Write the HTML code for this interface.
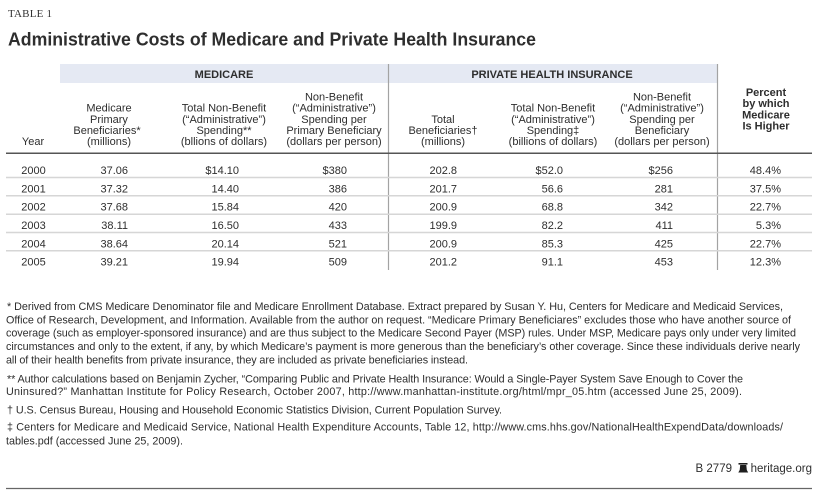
<!DOCTYPE html>
<html>
<head>
<meta charset="utf-8">
<style>
  html,body{margin:0;padding:0;background:#fff;}
  svg{display:block;}
  .s{font-family:"Liberation Sans",Arial,sans-serif;fill:#2e2e2e;}
  .h{font-size:11px;text-anchor:middle;}
  .d{font-size:11px;text-anchor:end;}
  .f{font-size:10.8px;}
</style>
</head>
<body>
<svg width="825" height="491" viewBox="0 0 825 491" xmlns="http://www.w3.org/2000/svg">
  <rect width="825" height="491" fill="#fff"/>
  <!-- Titles -->
  <text x="8" y="17" font-family="Liberation Serif, serif" font-size="11" fill="#333" textLength="44">TABLE 1</text>
  <text x="8" y="45.5" class="s" font-size="18.5" font-weight="bold" fill="#1e1e1e" textLength="528" lengthAdjust="spacingAndGlyphs">Administrative Costs of Medicare and Private Health Insurance</text>

  <!-- header band -->
  <rect x="60" y="64" width="657" height="19" fill="#e5e9f3"/>
  <line x1="388.5" y1="64" x2="388.5" y2="270" stroke="#a3a3a3" stroke-width="1.2"/>
  <line x1="717.5" y1="64" x2="717.5" y2="270" stroke="#a3a3a3" stroke-width="1.2"/>
  <text x="224" y="78" class="s h" font-weight="bold">MEDICARE</text>
  <text x="552" y="78" class="s h" font-weight="bold">PRIVATE HEALTH INSURANCE</text>

  <!-- column headers -->
  <text x="33" y="145" class="s h">Year</text>

  <text x="109" y="111.7" class="s h">Medicare</text>
  <text x="109" y="122.8" class="s h">Primary</text>
  <text x="107" y="133.9" class="s h">Beneficiaries*</text>
  <text x="109" y="145" class="s h">(millions)</text>

  <text x="224" y="111.7" class="s h">Total Non-Benefit</text>
  <text x="224" y="122.8" class="s h">(“Administrative”)</text>
  <text x="224" y="133.9" class="s h">Spending**</text>
  <text x="224" y="145" class="s h">(bllions of dollars)</text>

  <text x="334" y="100.6" class="s h">Non-Benefit</text>
  <text x="334" y="111.7" class="s h">(“Administrative”)</text>
  <text x="334" y="122.8" class="s h">Spending per</text>
  <text x="334" y="133.9" class="s h">Primary Beneficiary</text>
  <text x="334" y="145" class="s h">(dollars per person)</text>

  <text x="443" y="122.8" class="s h">Total</text>
  <text x="443" y="133.9" class="s h">Beneficiaries†</text>
  <text x="443" y="145" class="s h">(millions)</text>

  <text x="553" y="111.7" class="s h">Total Non-Benefit</text>
  <text x="553" y="122.8" class="s h">(“Administrative”)</text>
  <text x="553" y="133.9" class="s h">Spending‡</text>
  <text x="553" y="145" class="s h">(billions of dollars)</text>

  <text x="662" y="100.6" class="s h">Non-Benefit</text>
  <text x="662" y="111.7" class="s h">(“Administrative”)</text>
  <text x="662" y="122.8" class="s h">Spending per</text>
  <text x="662" y="133.9" class="s h">Beneficiary</text>
  <text x="662" y="145" class="s h">(dollars per person)</text>

  <text x="766" y="96" class="s h" font-weight="bold">Percent</text>
  <text x="766" y="107.2" class="s h" font-weight="bold">by which</text>
  <text x="766" y="118.4" class="s h" font-weight="bold">Medicare</text>
  <text x="766" y="129.6" class="s h" font-weight="bold">Is Higher</text>

  <!-- rules -->
  <line x1="6" y1="153.3" x2="812" y2="153.3" stroke="#555" stroke-width="1.5"/>
  <g stroke="#d6d6d6" stroke-width="1.5">
    <line x1="6" y1="177.5" x2="812" y2="177.5"/>
    <line x1="6" y1="195.8" x2="812" y2="195.8"/>
    <line x1="6" y1="214.2" x2="812" y2="214.2"/>
    <line x1="6" y1="232.5" x2="812" y2="232.5"/>
    <line x1="6" y1="250.8" x2="812" y2="250.8"/>
  </g>

  <!-- data -->
  <g class="s">
    <g class="h">
      <text x="33.5" y="174">2000</text>
      <text x="33.5" y="192.3">2001</text>
      <text x="33.5" y="210.7">2002</text>
      <text x="33.5" y="229">2003</text>
      <text x="33.5" y="247.3">2004</text>
      <text x="33.5" y="265.7">2005</text>
    </g>
    <g class="d">
      <text x="128" y="174">37.06</text>
      <text x="128" y="192.3">37.32</text>
      <text x="128" y="210.7">37.68</text>
      <text x="128" y="229">38.11</text>
      <text x="128" y="247.3">38.64</text>
      <text x="128" y="265.7">39.21</text>

      <text x="239" y="174">$14.10</text>
      <text x="239" y="192.3">14.40</text>
      <text x="239" y="210.7">15.84</text>
      <text x="239" y="229">16.50</text>
      <text x="239" y="247.3">20.14</text>
      <text x="239" y="265.7">19.94</text>

      <text x="347" y="174">$380</text>
      <text x="347" y="192.3">386</text>
      <text x="347" y="210.7">420</text>
      <text x="347" y="229">433</text>
      <text x="347" y="247.3">521</text>
      <text x="347" y="265.7">509</text>

      <text x="457" y="174">202.8</text>
      <text x="457" y="192.3">201.7</text>
      <text x="457" y="210.7">200.9</text>
      <text x="457" y="229">199.9</text>
      <text x="457" y="247.3">200.9</text>
      <text x="457" y="265.7">201.2</text>

      <text x="563" y="174">$52.0</text>
      <text x="563" y="192.3">56.6</text>
      <text x="563" y="210.7">68.8</text>
      <text x="563" y="229">82.2</text>
      <text x="563" y="247.3">85.3</text>
      <text x="563" y="265.7">91.1</text>

      <text x="673" y="174">$256</text>
      <text x="673" y="192.3">281</text>
      <text x="673" y="210.7">342</text>
      <text x="673" y="229">411</text>
      <text x="673" y="247.3">425</text>
      <text x="673" y="265.7">453</text>

      <text x="781" y="174">48.4%</text>
      <text x="781" y="192.3">37.5%</text>
      <text x="781" y="210.7">22.7%</text>
      <text x="781" y="229">5.3%</text>
      <text x="781" y="247.3">22.7%</text>
      <text x="781" y="265.7">12.3%</text>
    </g>
  </g>

  <!-- footnotes -->
  <g class="s f">
    <text x="7" y="310" textLength="776">* Derived from CMS Medicare Denominator file and Medicare Enrollment Database. Extract prepared by Susan Y. Hu, Centers for Medicare and Medicaid Services,</text>
    <text x="6" y="323.3" textLength="785">Office of Research, Development, and Information. Available from the author on request. “Medicare Primary Beneficiares” excludes those who have another source of</text>
    <text x="6" y="336.6" textLength="790">coverage (such as employer-sponsored insurance) and are thus subject to the Medicare Second Payer (MSP) rules. Under MSP, Medicare pays only under very limited</text>
    <text x="6" y="350" textLength="794">circumstances and only to the extent, if any, by which Medicare’s payment is more generous than the beneficiary’s other coverage. Since these individuals derive nearly</text>
    <text x="6" y="363.3" textLength="462">all of their health benefits from private insurance, they are included as private beneficiaries instead.</text>
    <text x="7" y="382.3" textLength="736">** Author calculations based on Benjamin Zycher, “Comparing Public and Private Health Insurance: Would a Single-Payer System Save Enough to Cover the</text>
    <text x="6" y="395.2" textLength="736">Uninsured?” Manhattan Institute for Policy Research, October 2007, http://www.manhattan-institute.org/html/mpr_05.htm (accessed June 25, 2009).</text>
    <text x="7" y="413.3" textLength="495">† U.S. Census Bureau, Housing and Household Economic Statistics Division, Current Population Survey.</text>
    <text x="7" y="430.7" textLength="776">‡ Centers for Medicare and Medicaid Service, National Health Expenditure Accounts, Table 12, http://www.cms.hhs.gov/NationalHealthExpendData/downloads/</text>
    <text x="6" y="444.5" textLength="177">tables.pdf (accessed June 25, 2009).</text>
  </g>

  <!-- credit -->
  <text x="732" y="472" class="s" font-size="11.5" text-anchor="end">B 2779</text>
  <g fill="#1e1e1e">
    <rect x="738.5" y="463" width="9" height="1.6"/>
    <path d="M740.2 465 L746.3 465 L746.8 470 L748.2 472.5 L738.3 472.5 L739.7 470 Z"/>
  </g>
  <text x="812" y="472" class="s" font-size="11.5" text-anchor="end">heritage.org</text>

  <line x1="6" y1="488.5" x2="812" y2="488.5" stroke="#666" stroke-width="1.2"/>
</svg>
</body>
</html>
